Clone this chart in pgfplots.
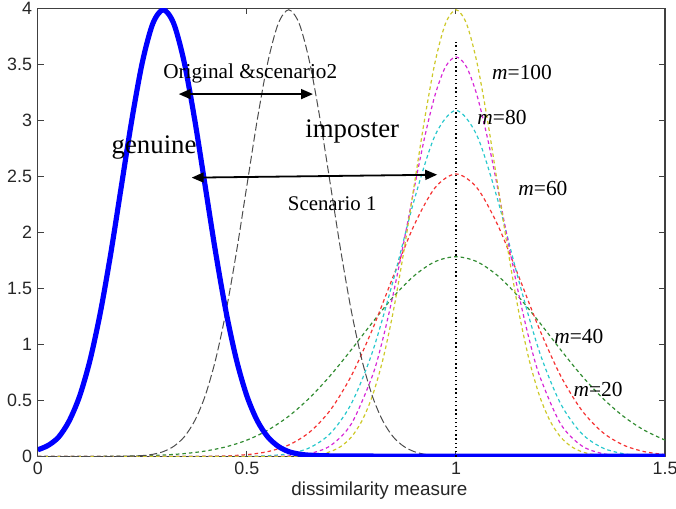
\documentclass[border=0pt]{standalone}
\usepackage{fontspec}
\setmainfont{Liberation Serif}
\setsansfont{Liberation Sans}
\usepackage{pgfplots}
\pgfplotsset{compat=1.18}
\usetikzlibrary{arrows.meta}

\definecolor{cyel}{RGB}{205,200,40}
\definecolor{cmag}{RGB}{215,40,215}
\definecolor{ccya}{RGB}{40,200,205}
\definecolor{cred}{RGB}{245,50,50}
\definecolor{cgrn}{RGB}{50,140,50}
\definecolor{cblu}{RGB}{0,0,255}

\begin{document}
\begin{tikzpicture}
\begin{axis}[
  name=ax,
  scale only axis,
  width=315bp, height=225bp,
  xmin=0, xmax=1.5, ymin=0, ymax=4,
  xtick={0,0.5,1,1.5}, xticklabels={0,0.5,1,\makebox[0pt]{1.5}},
  ytick={0,0.5,1,1.5,2,2.5,3,3.5,4},
  yticklabels={0,0.5,1,1.5,2,2.5,3,3.5,4},
  tick align=inside,
  major tick length=3bp,
  axis line style={draw=black!75, line width=0.6bp},
  every tick/.style={black!75, line width=0.5bp},
  ticklabel style={font=\sffamily\fontsize{9}{10}\selectfont, black!85},
  yticklabel style={inner sep=1.2bp, xshift=-1.5bp},
  xticklabel style={inner sep=1.5bp, yshift=-1bp},
  /pgf/number format/assume math mode=true,
  xlabel={dissimilarity measure},
  xlabel style={font=\sffamily\fontsize{9.5}{11}\selectfont, black!85, inner sep=1bp, yshift=-1bp, xshift=14bp},
  clip=true,
]
% m=20
\addplot[cgrn, line width=0.6bp, dash pattern=on 1.8bp off 1.5bp, smooth] coordinates {
(0,0.0001) (0.1,0.0005) (0.2,0.003) (0.25,0.0064) (0.3,0.0133) (0.35,0.0261) (0.4,0.0488)
(0.45,0.0868) (0.5,0.1465) (0.55,0.2355) (0.6,0.360) (0.65,0.524) (0.7,0.725) (0.75,0.955)
(0.8,1.196) (0.85,1.425) (0.9,1.614) (0.95,1.740) (1,1.784) (1.05,1.740) (1.1,1.614)
(1.15,1.425) (1.2,1.196) (1.25,0.955) (1.3,0.725) (1.35,0.524) (1.4,0.360) (1.45,0.2355)
(1.5,0.1465)};
% m=40
\addplot[cred, line width=0.6bp, dash pattern=on 1.8bp off 1.5bp, smooth] coordinates {
(0,0) (0.3,0) (0.4,0.0019) (0.45,0.006) (0.5,0.017) (0.55,0.044) (0.6,0.103) (0.65,0.218)
(0.7,0.417) (0.75,0.723) (0.8,1.134) (0.85,1.609) (0.9,2.066) (0.95,2.400) (1,2.523)
(1.05,2.400) (1.1,2.066) (1.15,1.609) (1.2,1.134) (1.25,0.723) (1.3,0.417) (1.35,0.218)
(1.4,0.103) (1.45,0.044) (1.5,0.017)};
% m=60
\addplot[ccya, line width=0.6bp, dash pattern=on 1.8bp off 1.5bp, smooth] coordinates {
(0,0) (0.4,0) (0.5,0.0017) (0.55,0.0071) (0.6,0.0254) (0.65,0.0783) (0.7,0.208) (0.75,0.474)
(0.8,0.931) (0.85,1.573) (0.9,2.289) (0.95,2.867) (1,3.090) (1.05,2.867) (1.1,2.289)
(1.15,1.573) (1.2,0.931) (1.25,0.474) (1.3,0.208) (1.35,0.0783) (1.4,0.0254) (1.45,0.0071)
(1.5,0.0017)};
% m=80
\addplot[cmag, line width=0.6bp, dash pattern=on 1.8bp off 1.5bp, smooth] coordinates {
(0,0) (0.45,0) (0.5,0.0002) (0.55,0.0011) (0.6,0.0059) (0.65,0.0266) (0.7,0.0975) (0.75,0.293)
(0.8,0.720) (0.825,1.048) (0.85,1.451) (0.875,1.910) (0.9,2.392) (0.925,2.849) (0.95,3.228)
(0.975,3.480) (1,3.568) (1.025,3.480) (1.05,3.228) (1.075,2.849) (1.1,2.392) (1.125,1.910)
(1.15,1.451) (1.175,1.048) (1.2,0.720) (1.25,0.293) (1.3,0.0975) (1.35,0.0266) (1.4,0.0059)
(1.45,0.0011) (1.5,0.0002)};
% m=100
\addplot[cyel, line width=0.6bp, dash pattern=on 1.8bp off 1.5bp, smooth] coordinates {
(0,0) (0.5,0) (0.6,0.0013) (0.65,0.0087) (0.675,0.020) (0.7,0.044) (0.725,0.091) (0.75,0.175)
(0.775,0.318) (0.8,0.540) (0.825,0.863) (0.85,1.295) (0.875,1.826) (0.9,2.420) (0.925,3.011)
(0.95,3.521) (0.975,3.866) (1,3.989) (1.025,3.866) (1.05,3.521) (1.075,3.011) (1.1,2.420)
(1.125,1.826) (1.15,1.295) (1.175,0.863) (1.2,0.540) (1.225,0.318) (1.25,0.175) (1.275,0.091)
(1.3,0.044) (1.325,0.020) (1.35,0.0087) (1.4,0.0013) (1.5,0)};
% imposter
\addplot[black!70, line width=0.5bp, dash pattern=on 4bp off 1.6bp, smooth] coordinates {
(0,0) (0.15,0) (0.2,0.0013) (0.25,0.0087) (0.275,0.020) (0.3,0.044) (0.325,0.091) (0.35,0.175)
(0.375,0.318) (0.4,0.540) (0.425,0.863) (0.45,1.295) (0.475,1.826) (0.5,2.420) (0.525,3.011)
(0.55,3.521) (0.575,3.866) (0.6,3.989) (0.625,3.866) (0.65,3.521) (0.675,3.011) (0.7,2.420)
(0.725,1.826) (0.75,1.295) (0.775,0.863) (0.8,0.540) (0.825,0.318) (0.85,0.175) (0.875,0.091)
(0.9,0.044) (0.925,0.020) (0.95,0.0087) (1,0.0013) (1.05,0)};
% genuine
\addplot[cblu, line width=2.6bp, smooth] coordinates {
(0,0.06) (0.025,0.10) (0.05,0.175) (0.075,0.318) (0.1,0.540) (0.125,0.863) (0.15,1.295)
(0.175,1.826) (0.2,2.420) (0.225,3.011) (0.25,3.521) (0.275,3.866) (0.3,3.989) (0.325,3.866)
(0.35,3.521) (0.375,3.011) (0.4,2.420) (0.425,1.826) (0.45,1.295) (0.475,0.863) (0.5,0.540)
(0.525,0.318) (0.55,0.175) (0.575,0.091) (0.6,0.044) (0.625,0.022) (0.65,0.012) (0.7,0.006)
(0.8,0.004) (1,0.003) (1.5,0.003)};
% line at x=1
\addplot[black, line width=0.6bp, dash pattern=on 0.7bp off 1.4bp] coordinates {(1,0) (1,3.7)};

% annotations
\draw[{Triangle[length=6bp,width=5bp]}-{Triangle[length=6bp,width=5bp]}, line width=0.9bp]
  (axis cs:0.337,3.236) -- (axis cs:0.658,3.236);
\draw[{Triangle[length=6bp,width=5bp]}-{Triangle[length=6bp,width=5bp]}, line width=0.9bp]
  (axis cs:0.368,2.49) -- (axis cs:0.955,2.516);
\node[font=\fontsize{10.7}{12}\selectfont] at (axis cs:0.508,3.42) {Original \&scenario2};
\node[font=\fontsize{13.5}{15}\selectfont] at (axis cs:0.752,2.90) {imposter};
\node[font=\fontsize{13.5}{15}\selectfont] at (axis cs:0.278,2.76) {genuine};
\node[font=\fontsize{10.5}{12}\selectfont] at (axis cs:0.704,2.26) {Scenario 1};
\node[font=\fontsize{10.8}{12}\selectfont] at (axis cs:1.158,3.43) {\textit{m}=100};
\node[font=\fontsize{10.8}{12}\selectfont] at (axis cs:1.110,3.03) {\textit{m}=80};
\node[font=\fontsize{10.8}{12}\selectfont] at (axis cs:1.208,2.39) {\textit{m}=60};
\node[font=\fontsize{10.8}{12}\selectfont] at (axis cs:1.294,1.075) {\textit{m}=40};
\node[font=\fontsize{10.8}{12}\selectfont] at (axis cs:1.340,0.596) {\textit{m}=20};
\end{axis}
\path ([xshift=5.5bp]ax.east) ([xshift=-19bp]ax.west) ([yshift=4bp]ax.north) ([yshift=-26bp]ax.south);
\end{tikzpicture}
\end{document}
